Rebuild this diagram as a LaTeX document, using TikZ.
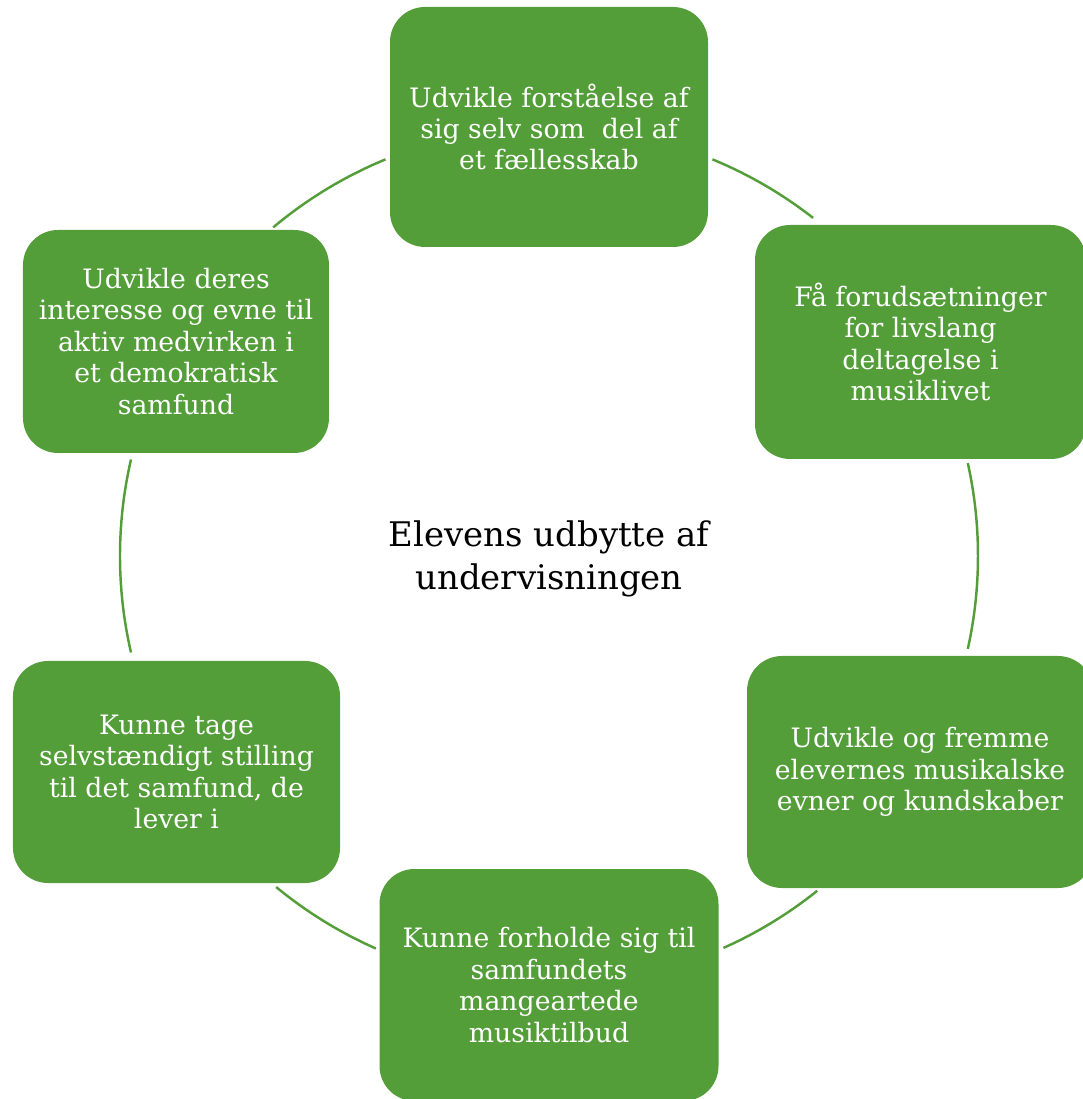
\documentclass[tikz,border=0pt]{standalone}
\usepackage{fontspec}
\setmainfont{DejaVu Serif}
\usetikzlibrary{positioning}
\definecolor{leafgreen}{RGB}{84,158,58}

\begin{document}
\begin{tikzpicture}[
    goal/.style={fill=leafgreen, rounded corners=0.7cm, align=center, text=white, inner sep=0pt, font=\fontsize{15.2}{17.9}\selectfont},
    link/.style={draw=leafgreen, line width=1.4pt}
]
    \useasboundingbox (-10.98,-10.86) rectangle (10.66,11.12);

    % Goals placed round the circle
    \node[goal, minimum width=6.36cm, minimum height=4.8cm] (self) at (0,8.58) {Udvikle forståelse af\\sig selv som\ \ del af\\et fællesskab};
    \node[goal, minimum width=6.62cm, minimum height=4.68cm] (life) at (7.43,4.28) {Få forudsætninger\\for livslang\\deltagelse i\\musiklivet};
    \node[goal, minimum width=6.92cm, minimum height=4.64cm] (skill) at (7.42,-4.32) {Udvikle og fremme\\elevernes musikalske\\evner og kundskaber};
    \node[goal, minimum width=6.78cm, minimum height=4.64cm] (offer) at (0,-8.58) {Kunne forholde sig til\\samfundets\\mangeartede\\musiktilbud};
    \node[goal, minimum width=6.54cm, minimum height=4.44cm] (stand) at (-7.45,-4.32) {Kunne tage\\selvstændigt stilling\\til det samfund, de\\lever i};
    \node[goal, minimum width=6.12cm, minimum height=4.46cm] (demo) at (-7.46,4.29) {Udvikle deres\\interesse og evne til\\aktiv medvirken i\\et demokratisk\\samfund};

    % Centre text
    \node[font=\fontsize{19.3}{24.5}\selectfont, align=center] (centre) at (0,-0.05) {Elevens udbytte af\\undervisningen};

    % Arcs between the goals
    \foreach \a/\b in {52/67.6, -12.5/12.5, -66/-51.3, -129.5/-113.8, 167/193, 112.4/130}
        \draw[link] (\a:8.58) arc[start angle=\a, end angle=\b, radius=8.58];

\end{tikzpicture}
\end{document}
